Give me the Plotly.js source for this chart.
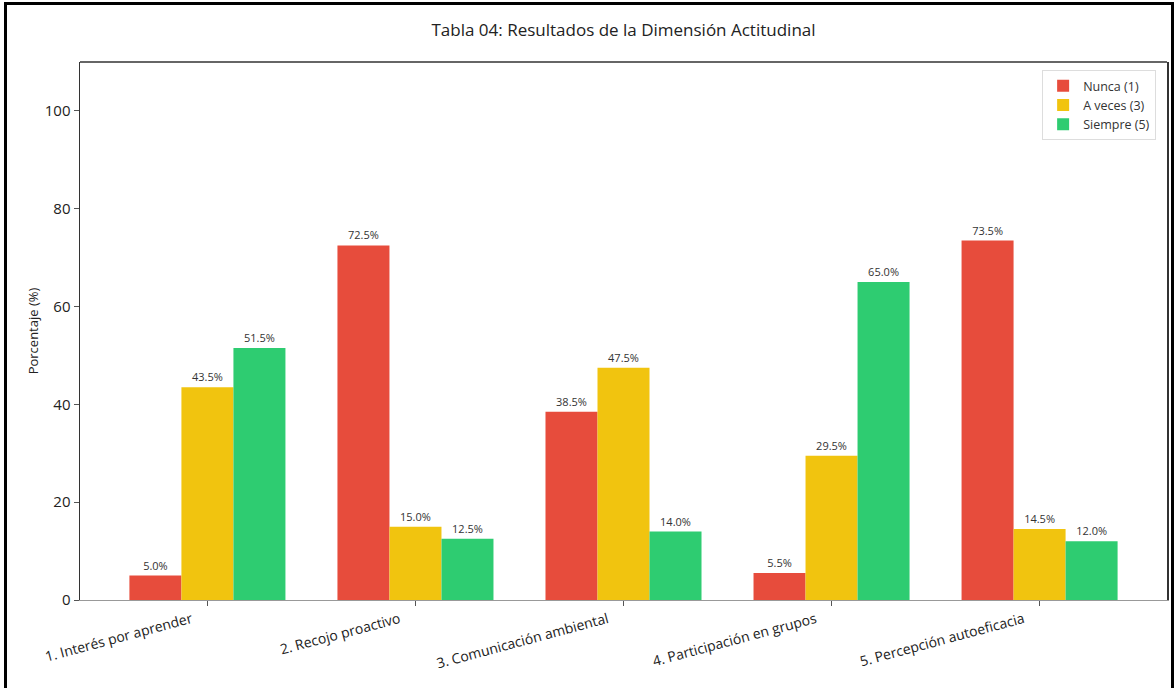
<!DOCTYPE html>
<html>
<head>
<meta charset="utf-8">
<script src="https://cdn.plot.ly/plotly-3.0.1.min.js"></script>
<style>
  html, body { margin: 0; padding: 0; background: #fff; overflow: hidden; }
  #chart { position: absolute; left: 0; top: 0; width: 1176px; height: 688px; }
  #frame { position: absolute; left: 4px; top: 2px; width: 1164px; height: 700px; border: 3px solid #000; pointer-events: none; }
</style>
</head>
<body>
<div id="chart"></div>
<div id="frame"></div>
<script>
const categories = [
  "1. Interés por aprender",
  "2. Recojo proactivo",
  "3. Comunicación ambiental",
  "4. Participación en grupos",
  "5. Percepción autoeficacia"
];
const seriesNames = ["Nunca (1)", "A veces (3)", "Siempre (5)"];
const nunca = [5.0, 72.5, 38.5, 5.5, 73.5];
const aVeces = [43.5, 15.0, 47.5, 29.5, 14.5];
const siempre = [51.5, 12.5, 14.0, 65.0, 12.0];
const colors = ["#e74c3c", "#f1c40f", "#2ecc71"];
const yTicks = [0, 20, 40, 60, 80, 100];

const allValues = [nunca, aVeces, siempre];
const traces = allValues.map((vals, i) => ({
  type: "bar",
  name: seriesNames[i],
  x: categories,
  y: vals,
  marker: { color: colors[i], line: { width: 0 } },
  texttemplate: "%{y:.1f}%",
  textposition: "outside",
  textfont: { size: 11, color: "#333", family: "Open Sans, sans-serif" },
  cliponaxis: false,
  hoverinfo: "skip"
}));

const layout = {
  width: 1176,
  height: 688,
  margin: { l: 80, r: 9, t: 62, b: 88 },
  paper_bgcolor: "#fff",
  plot_bgcolor: "#fff",
  font: { family: "Open Sans, sans-serif", color: "#222" },
  title: {
    text: "Tabla 04: Resultados de la Dimensión Actitudinal",
    font: { size: 17, color: "#222", family: "Open Sans, sans-serif" },
    x: 0.5, xref: "paper", xanchor: "center",
    y: 0.957, yref: "container", yanchor: "middle"
  },
  barmode: "group",
  bargap: 0.25,
  bargroupgap: 0,
  showlegend: true,
  legend: {
    x: 0.99, y: 0.985, xanchor: "right", yanchor: "top",
    bgcolor: "rgba(255,255,255,0.9)",
    bordercolor: "#ddd", borderwidth: 1,
    font: { size: 12.5, color: "#333" },
    tracegroupgap: 0
  },
  xaxis: {
    type: "category",
    range: [-0.6125, 4.6125],
    tickangle: -15,
    ticklabelshift: -16,
    ticks: "outside", ticklen: 5, tickcolor: "#555",
    tickfont: { size: 14, color: "#222" },
    showline: true, linecolor: "#999", linewidth: 1,
    showgrid: false, zeroline: false
  },
  yaxis: {
    range: [0, 110],
    tickvals: yTicks,
    ticktext: yTicks.map(String),
    ticks: "outside", ticklen: 5, tickcolor: "#555",
    tickfont: { size: 15, color: "#222" },
    showline: true, linecolor: "#333", linewidth: 1.5, mirror: true,
    showgrid: false, zeroline: false,
    title: { text: "Porcentaje (%)", font: { size: 13, color: "#222" }, standoff: 3 }
  },
  shapes: [{
    type: "line", xref: "paper", yref: "paper",
    x0: 0, x1: 1, y0: 1, y1: 1,
    line: { color: "#333", width: 1.5 }
  }]
};

Plotly.newPlot("chart", traces, layout, { displayModeBar: false, staticPlot: true });
</script>
</body>
</html>
